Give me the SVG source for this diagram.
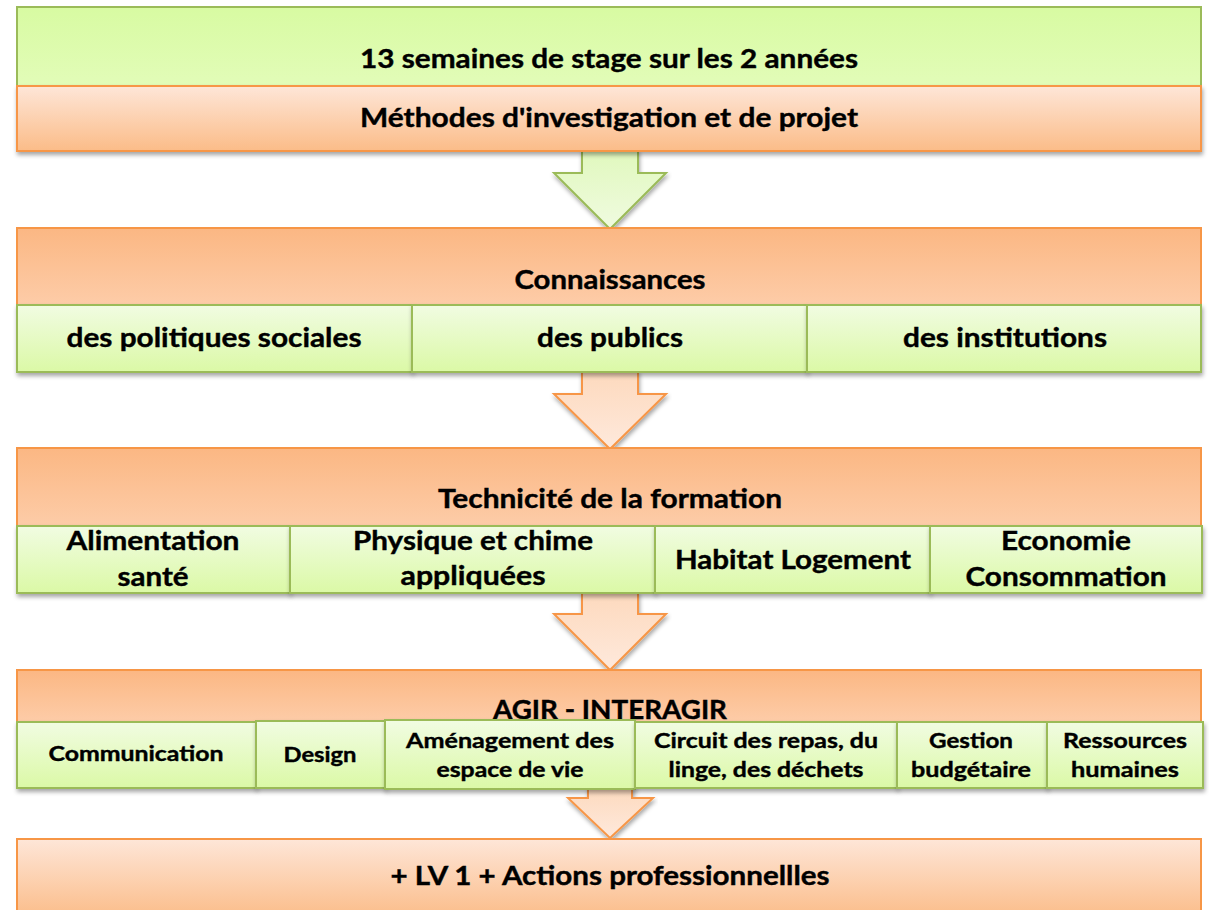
<svg xmlns="http://www.w3.org/2000/svg" width="1209" height="910" viewBox="0 0 1209 910">
<defs>
<linearGradient id="gGreenTop" x1="0" y1="0" x2="0" y2="1"><stop offset="0" stop-color="#d8fba2"/><stop offset="1" stop-color="#e2fcb8"/></linearGradient>
<linearGradient id="gCell" x1="0" y1="0" x2="0" y2="1"><stop offset="0" stop-color="#f1fce2"/><stop offset="1" stop-color="#dbf9a6"/></linearGradient>
<linearGradient id="gOrLight" x1="0" y1="0" x2="0" y2="1"><stop offset="0" stop-color="#fee6d8"/><stop offset="1" stop-color="#fbbc88"/></linearGradient>
<linearGradient id="gOrHead" x1="0" y1="0" x2="0" y2="1"><stop offset="0" stop-color="#fbb783"/><stop offset="1" stop-color="#fdcca8"/></linearGradient>
<linearGradient id="gArrOr" x1="0" y1="0" x2="0" y2="1"><stop offset="0" stop-color="#fdd9bd"/><stop offset="1" stop-color="#fee9dc"/></linearGradient>
<linearGradient id="gArrGr" x1="0" y1="0" x2="0" y2="1"><stop offset="0" stop-color="#e0f8bd"/><stop offset="1" stop-color="#f0fbe0"/></linearGradient>
<filter id="sh" x="-5%" y="-20%" width="110%" height="150%"><feDropShadow dx="1" dy="3" stdDeviation="2" flood-color="#000" flood-opacity="0.35"/></filter>
</defs>
<style>
.or{stroke:#f79646;stroke-width:2}
.gr{stroke:#9bbb59;stroke-width:2}
.t{font-family:Lato,"Open Sans",sans-serif;font-weight:bold;fill:#000;stroke:#000;stroke-width:0.4;text-anchor:middle}
.b{font-size:27px}
.s{font-size:21px}
</style>
<g id="connectors">
<path class="gr" fill="url(#gArrGr)" filter="url(#sh)" d="M582,150 L638,150 L638,173 L666,173 L610,229 L554,173 L582,173 Z"/>
<path class="or" fill="url(#gArrOr)" filter="url(#sh)" d="M582,371 L638,371 L638,394 L666,394 L610,449 L554,394 L582,394 Z"/>
<path class="or" fill="url(#gArrOr)" filter="url(#sh)" d="M582,592 L638,592 L638,614 L666,614 L610,670 L554,614 L582,614 Z"/>
<path class="or" fill="url(#gArrOr)" filter="url(#sh)" d="M588,786 L632,786 L632,798 L653,798 L610,838 L568,798 L588,798 Z"/>
</g>
<g id="n-stage">
<rect class="gr" x="17" y="7" width="1184" height="79" fill="url(#gGreenTop)"/>
<text class="t b" x="609" y="68" textLength="498" lengthAdjust="spacingAndGlyphs">13 semaines de stage sur les 2 années</text>
</g>
<g id="n-methodes">
<rect class="or" x="17" y="86" width="1184" height="65" fill="url(#gOrLight)" filter="url(#sh)"/>
<text class="t b" x="609" y="127" textLength="498" lengthAdjust="spacingAndGlyphs">Méthodes d'investigation et de projet</text>
</g>
<g id="n-connaissances">
<rect class="or" x="17" y="228" width="1184" height="77" fill="url(#gOrHead)"/>
<text class="t b" x="610" y="289" textLength="191" lengthAdjust="spacingAndGlyphs">Connaissances</text>
</g>
<g id="n-politiques">
<rect class="gr" x="17" y="305" width="395" height="67" fill="url(#gCell)" filter="url(#sh)"/>
<text class="t b" x="214" y="347" textLength="295" lengthAdjust="spacingAndGlyphs">des politiques sociales</text>
</g>
<g id="n-publics">
<rect class="gr" x="412" y="305" width="395" height="67" fill="url(#gCell)" filter="url(#sh)"/>
<text class="t b" x="610" y="347" textLength="146" lengthAdjust="spacingAndGlyphs">des publics</text>
</g>
<g id="n-institutions">
<rect class="gr" x="807" y="305" width="394" height="67" fill="url(#gCell)" filter="url(#sh)"/>
<text class="t b" x="1005" y="347" textLength="204" lengthAdjust="spacingAndGlyphs">des institutions</text>
</g>
<g id="n-technicite">
<rect class="or" x="17" y="448" width="1184" height="78" fill="url(#gOrHead)"/>
<text class="t b" x="610" y="508" textLength="344" lengthAdjust="spacingAndGlyphs">Technicité de la formation</text>
</g>
<g id="n-alimentation">
<rect class="gr" x="17" y="526" width="273" height="67" fill="url(#gCell)" filter="url(#sh)"/>
<text class="t b" x="153" y="550" textLength="173" lengthAdjust="spacingAndGlyphs">Alimentation</text>
<text class="t b" x="153" y="586" textLength="71" lengthAdjust="spacingAndGlyphs">santé</text>
</g>
<g id="n-physique">
<rect class="gr" x="290" y="526" width="365" height="67" fill="url(#gCell)" filter="url(#sh)"/>
<text class="t b" x="473" y="550" textLength="240" lengthAdjust="spacingAndGlyphs">Physique et chime</text>
<text class="t b" x="473" y="585" textLength="145" lengthAdjust="spacingAndGlyphs">appliquées</text>
</g>
<g id="n-habitat">
<rect class="gr" x="655" y="526" width="275" height="67" fill="url(#gCell)" filter="url(#sh)"/>
<text class="t b" x="793" y="569" textLength="236" lengthAdjust="spacingAndGlyphs">Habitat Logement</text>
</g>
<g id="n-economie">
<rect class="gr" x="930" y="526" width="272" height="67" fill="url(#gCell)" filter="url(#sh)"/>
<text class="t b" x="1066" y="550" textLength="130" lengthAdjust="spacingAndGlyphs">Economie</text>
<text class="t b" x="1066" y="586" textLength="201" lengthAdjust="spacingAndGlyphs">Consommation</text>
</g>
<g id="n-agir">
<rect class="or" x="17" y="670" width="1184" height="52" fill="url(#gOrHead)"/>
<text class="t b" x="610" y="719" textLength="234" lengthAdjust="spacingAndGlyphs">AGIR - INTERAGIR</text>
</g>
<g id="n-communication">
<rect class="gr" x="17" y="722" width="239" height="66" fill="url(#gCell)" filter="url(#sh)"/>
<text class="t s" x="136" y="761" textLength="175" lengthAdjust="spacingAndGlyphs">Communication</text>
</g>
<g id="n-design">
<rect class="gr" x="256" y="721" width="129" height="67" fill="url(#gCell)" filter="url(#sh)"/>
<text class="t s" x="320" y="762" textLength="73" lengthAdjust="spacingAndGlyphs">Design</text>
</g>
<g id="n-amenagement">
<rect class="gr" x="385" y="720" width="250" height="69" fill="url(#gCell)" filter="url(#sh)"/>
<text class="t s" x="510" y="748" textLength="208" lengthAdjust="spacingAndGlyphs">Aménagement des</text>
<text class="t s" x="510" y="777" textLength="147" lengthAdjust="spacingAndGlyphs">espace de vie</text>
</g>
<g id="n-circuit">
<rect class="gr" x="635" y="722" width="262" height="66" fill="url(#gCell)" filter="url(#sh)"/>
<text class="t s" x="766" y="748" textLength="224" lengthAdjust="spacingAndGlyphs">Circuit des repas, du</text>
<text class="t s" x="766" y="777" textLength="195" lengthAdjust="spacingAndGlyphs">linge, des déchets</text>
</g>
<g id="n-gestion">
<rect class="gr" x="897" y="722" width="150" height="66" fill="url(#gCell)" filter="url(#sh)"/>
<text class="t s" x="971" y="748" textLength="84" lengthAdjust="spacingAndGlyphs">Gestion</text>
<text class="t s" x="971" y="777" textLength="120" lengthAdjust="spacingAndGlyphs">budgétaire</text>
</g>
<g id="n-ressources">
<rect class="gr" x="1047" y="722" width="156" height="66" fill="url(#gCell)" filter="url(#sh)"/>
<text class="t s" x="1125" y="748" textLength="124" lengthAdjust="spacingAndGlyphs">Ressources</text>
<text class="t s" x="1125" y="777" textLength="108" lengthAdjust="spacingAndGlyphs">humaines</text>
</g>
<g id="n-lv1">
<rect class="or" x="17" y="839" width="1184" height="80" fill="url(#gOrLight)"/>
<text class="t b" x="610" y="885" textLength="439" lengthAdjust="spacingAndGlyphs">+ LV 1 + Actions professionnellles</text>
</g>
</svg>
